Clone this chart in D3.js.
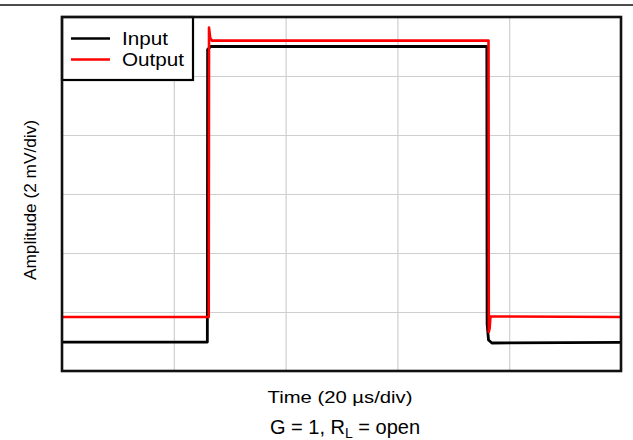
<!DOCTYPE html>
<html>
<head>
<meta charset="utf-8">
<script src="https://cdn.jsdelivr.net/npm/d3@7"></script>
<style>
  body { margin: 0; background: #fff; }
  svg { display: block; font-family: "Liberation Sans", Arial, sans-serif; }
</style>
</head>
<body>
<svg id="chart"></svg>
<script>
// time in us, amplitude in mV (2 mV/div, 20 us/div)
var input_t = [0, 26.0, 26.05, 26.6, 30, 76.0, 76.05, 76.3, 76.9, 100];
var input_v = [0.98, 0.98, 10.9, 11.0, 11.0, 11.0, 1.6, 1.05, 0.95, 0.97];
var output_t = [0, 26.25, 26.3, 26.5, 26.8, 76.3, 76.35, 76.5, 76.65, 100];
var output_v = [1.83, 1.83, 11.64, 11.3, 11.2, 11.2, 1.32, 1.45, 1.85, 1.83];
var x_ticks = [0, 20, 40, 60, 80, 100];
var y_ticks = [0, 2, 4, 6, 8, 10, 12];
var series_names = ["Input", "Output"];
var series_colors = ["#000000", "#ff0000"];

var width = 633, height = 440;
var plot_left = 62, plot_right = 621, plot_top = 17, plot_bottom = 371;

var svg = d3.select("#chart").attr("width", width).attr("height", height);

var x = d3.scaleLinear().domain([0, 100]).range([plot_left, plot_right]);
var y = d3.scaleLinear().domain([0, 12]).range([plot_bottom, plot_top]);

// top rule
svg.append("line")
    .attr("x1", 0).attr("x2", width)
    .attr("y1", 5).attr("y2", 5)
    .attr("stroke", "#111").attr("stroke-width", 1.5);

// grid
svg.append("g")
    .attr("transform", "translate(0," + plot_bottom + ")")
    .call(d3.axisBottom(x).tickValues(x_ticks).tickSize(-(plot_bottom - plot_top)).tickFormat(""))
    .call(g => g.select(".domain").remove())
    .selectAll("line").attr("stroke", "#cfcfcf").attr("stroke-width", 1.2);

svg.append("g")
    .attr("transform", "translate(" + plot_left + ",0)")
    .call(d3.axisLeft(y).tickValues(y_ticks).tickSize(-(plot_right - plot_left)).tickFormat(""))
    .call(g => g.select(".domain").remove())
    .selectAll("line").attr("stroke", "#cfcfcf").attr("stroke-width", 1.2);

var line = d3.line().x(d => x(d[0])).y(d => y(d[1]));

var input_data = input_t.map((t, i) => [t, input_v[i]]);
var output_data = output_t.map((t, i) => [t, output_v[i]]);

svg.append("path")
    .datum(input_data)
    .attr("d", line)
    .attr("fill", "none")
    .attr("stroke", series_colors[0])
    .attr("stroke-width", 2.8)
    .attr("stroke-linejoin", "round");

svg.append("path")
    .datum(output_data)
    .attr("d", line)
    .attr("fill", "none")
    .attr("stroke", series_colors[1])
    .attr("stroke-width", 2.6)
    .attr("stroke-linejoin", "round");

// legend
var legend = svg.append("g");
legend.append("rect")
    .attr("x", plot_left).attr("y", plot_top)
    .attr("width", 131).attr("height", 63)
    .attr("fill", "#fff").attr("stroke", "#000").attr("stroke-width", 2.2);

series_names.forEach((name, i) => {
    var ly = 38.5 + i * 21;
    legend.append("line")
        .attr("x1", 71).attr("x2", 110)
        .attr("y1", ly).attr("y2", ly)
        .attr("stroke", series_colors[i]).attr("stroke-width", 2.6);
    legend.append("text")
        .attr("x", 122).attr("y", ly + 6.5)
        .attr("font-size", 18)
        .attr("textLength", i == 0 ? 46 : 62)
        .attr("lengthAdjust", "spacingAndGlyphs")
        .attr("fill", "#000")
        .text(name);
});

// frame
svg.append("rect")
    .attr("x", plot_left).attr("y", plot_top)
    .attr("width", plot_right - plot_left).attr("height", plot_bottom - plot_top)
    .attr("fill", "none").attr("stroke", "#111").attr("stroke-width", 2.6);

// axis titles
svg.append("text")
    .attr("x", 340).attr("y", 403)
    .attr("text-anchor", "middle")
    .attr("font-size", 17)
    .attr("textLength", 145)
    .attr("lengthAdjust", "spacingAndGlyphs")
    .text("Time (20 µs/div)");

svg.append("text")
    .attr("transform", "translate(36,200) rotate(-90)")
    .attr("text-anchor", "middle")
    .attr("font-size", 16.5)
    .attr("textLength", 160)
    .attr("lengthAdjust", "spacingAndGlyphs")
    .text("Amplitude (2 mV/div)");

var sub = svg.append("text")
    .attr("x", 345).attr("y", 434)
    .attr("text-anchor", "middle")
    .attr("font-size", 20);
sub.append("tspan").text("G = 1, R");
sub.append("tspan").attr("font-size", 14).attr("dy", 4).text("L");
sub.append("tspan").attr("dy", -4).text(" = open");
</script>
</body>
</html>
